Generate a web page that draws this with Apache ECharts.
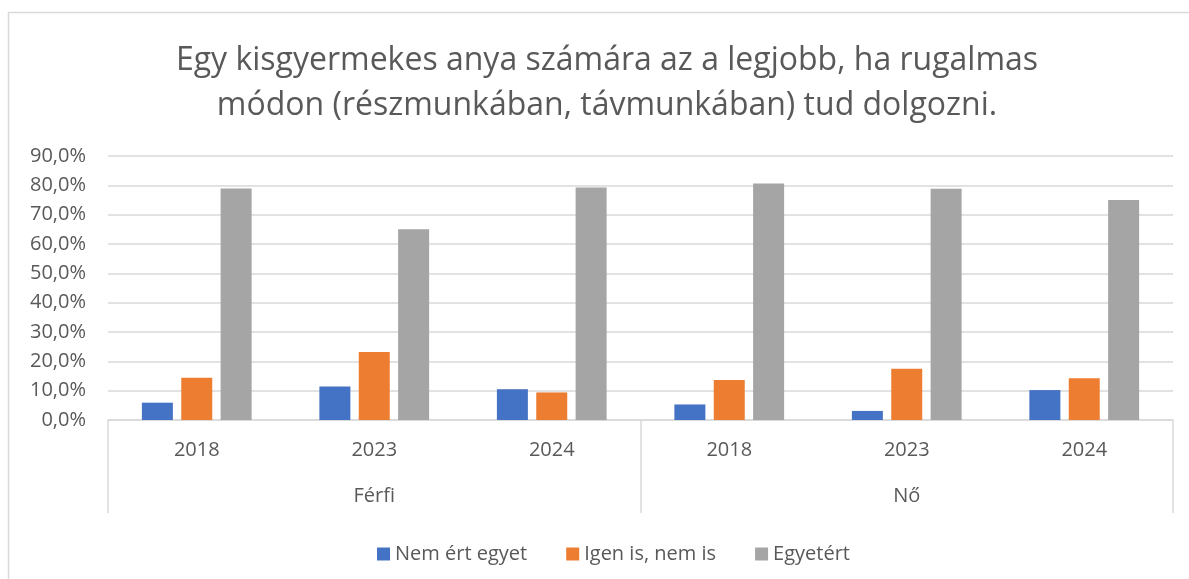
<!DOCTYPE html>
<html>
<head>
<meta charset="utf-8">
<script src="https://cdn.jsdelivr.net/npm/echarts@6/dist/echarts.min.js"></script>
<style>
  html, body { margin: 0; padding: 0; background: #fff; }
  #chart { width: 1189px; height: 579px; }
</style>
</head>
<body>
<div id="chart"></div>
<script>
// adatok (%)
const years = ['2018', '2023', '2024', '2018', '2023', '2024'];
const groups = ['Férfi', 'Nő'];
const seriesNames = ['Nem ért egyet', 'Igen is, nem is', 'Egyetért'];
const nemErtEgyet = [5.9, 11.4, 10.5, 5.3, 3.1, 10.2];
const igenIsNemIs = [14.4, 23.2, 9.4, 13.6, 17.5, 14.2];
const egyetert = [78.9, 65.0, 79.3, 80.6, 78.8, 75.0];
const colors = ['#4472C4', '#ED7D31', '#A5A5A5'];
const titleText = 'Egy kisgyermekes anya számára az a legjobb, ha rugalmas\nmódon (részmunkában, távmunkában) tud dolgozni.';

const font = 'Open Sans';
const textColor = '#595959';
const lineColor = '#d9d9d9';

let myChart = echarts.init(document.getElementById('chart'));

function bar(name, data) {
  return {
    name: name,
    type: 'bar',
    barWidth: 31,
    barGap: '27%',
    data: data
  };
}

myChart.setOption({
  animation: false,
  color: colors,
  legend: {
    data: seriesNames,
    top: 539,
    left: 372,
    itemWidth: 13,
    itemHeight: 13,
    itemGap: 39,
    icon: 'rect',
    textStyle: { fontFamily: font, fontSize: 20, color: textColor }
  },
  graphic: [
    {
      type: 'rect',
      shape: { x: 8.5, y: 12.5, width: 1200, height: 600 },
      style: { fill: 'none', stroke: lineColor, lineWidth: 1.5 },
      silent: true
    },
    // cím: kicsit jobbra van a középtől, ezért kézzel
    {
      type: 'text',
      x: 607,
      y: 38,
      silent: true,
      style: {
        text: titleText,
        fontFamily: font,
        fontSize: 32,
        lineHeight: 45,
        fill: textColor,
        align: 'center',
        verticalAlign: 'top'
      }
    }
  ],
  grid: { left: 108, right: 16, top: 156, bottom: 159 },
  xAxis: [
    {
      type: 'category',
      data: years,
      axisLine: { lineStyle: { color: lineColor, width: 1.5 } },
      axisTick: { show: false },
      axisLabel: { fontFamily: font, fontSize: 20, color: textColor, margin: 20, interval: 0 }
    },
    {
      type: 'category',
      data: groups,
      position: 'bottom',
      axisLine: { show: false },
      axisTick: { show: true, length: 93, interval: 0, lineStyle: { color: lineColor, width: 1.5 } },
      axisLabel: { fontFamily: font, fontSize: 20, color: textColor, margin: 66 }
    }
  ],
  yAxis: {
    type: 'value',
    min: 0,
    max: 90,
    interval: 10,
    axisLine: { show: false },
    axisTick: { show: false },
    splitLine: { lineStyle: { color: lineColor, width: 1.5 } },
    axisLabel: {
      fontFamily: font,
      fontSize: 20,
      color: textColor,
      margin: 22,
      formatter: function (v) { return v.toFixed(1).replace('.', ',') + '%'; }
    }
  },
  series: [
    bar(seriesNames[0], nemErtEgyet),
    bar(seriesNames[1], igenIsNemIs),
    bar(seriesNames[2], egyetert)
  ]
});
</script>
</body>
</html>
